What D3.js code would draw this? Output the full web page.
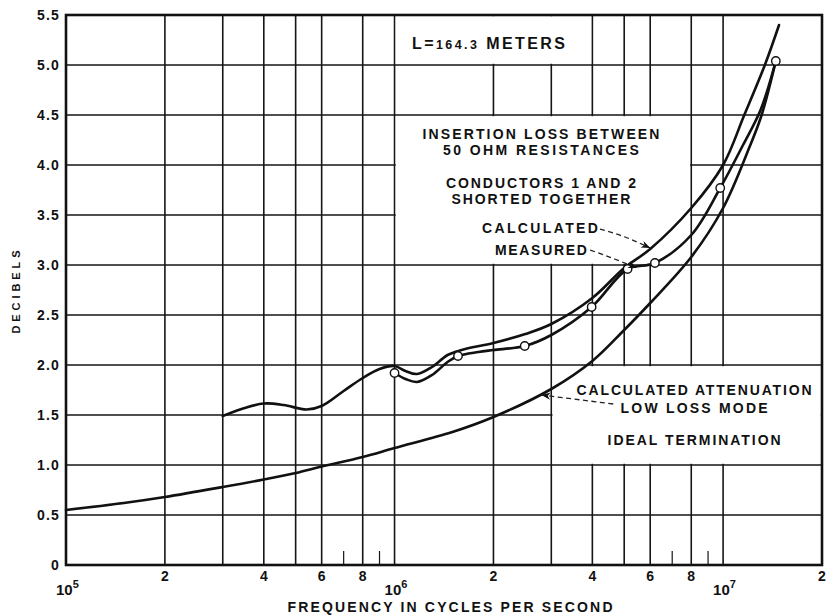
<!DOCTYPE html>
<html>
<head>
<meta charset="utf-8">
<script src="https://cdn.jsdelivr.net/npm/d3@7"></script>
<style>
  html, body { margin: 0; padding: 0; background: #fff; }
  svg { display: block; }
  text { font-family: "Liberation Sans", "Open Sans", sans-serif; font-weight: 700; fill: #111; }
</style>
</head>
<body>
<svg id="chart" width="828" height="616"></svg>
<script>
// Frequency grid: log decades with lines at 1..6 and 8, short ticks at 7 and 9
const decadeStarts = [1e5, 1e6];
const gridMultipliers = [1, 2, 3, 4, 5, 6, 8];
const shortTickMultipliers = [7, 9];
const xMinorLabels = [2, 4, 6, 8];
const xPowerLabels = [[1e5, "5"], [1e6, "6"], [1e7, "7"]];
const yTicks = [0, 0.5, 1.0, 1.5, 2.0, 2.5, 3.0, 3.5, 4.0, 4.5, 5.0, 5.5];
const yTickLabels = ["0", "0.5", "1.0", "1.5", "2.0", "2.5", "3.0", "3.5", "4.0", "4.5", "5.0", "5.5"];

// Calculated attenuation, low loss mode, ideal termination [Hz, dB]
const attenuation = [
  [1e5, 0.55], [1.5e5, 0.62], [2e5, 0.68], [3e5, 0.78], [4e5, 0.855], [5e5, 0.92],
  [6e5, 0.985], [8e5, 1.08], [1e6, 1.17], [1.5e6, 1.33], [2e6, 1.48], [3e6, 1.76],
  [4e6, 2.04], [5e6, 2.35], [6e6, 2.62], [8e6, 3.08], [1e7, 3.57], [1.2e7, 4.17],
  [1.31e7, 4.5], [1.447e7, 5.04]
];

// Calculated insertion loss between 50 ohm resistances [Hz, dB]
const calculated = [
  [3e5, 1.49], [3.5e5, 1.57], [4e5, 1.615], [4.6e5, 1.6], [5.4e5, 1.555], [6e5, 1.59],
  [7e5, 1.74], [8e5, 1.87], [9e5, 1.96], [1e6, 1.99], [1.08e6, 1.94], [1.17e6, 1.91],
  [1.3e6, 1.98], [1.45e6, 2.1], [1.6e6, 2.15], [2e6, 2.22], [2.5e6, 2.31], [3e6, 2.41],
  [4e6, 2.67], [5e6, 2.97], [6e6, 3.16], [8e6, 3.57], [1e7, 4.0], [1.16e7, 4.5],
  [1.34e7, 5.0], [1.48e7, 5.4]
];

// Measured insertion loss: faired curve and the measured points [Hz, dB]
const measuredCurve = [
  [1e6, 1.92], [1.08e6, 1.86], [1.17e6, 1.83], [1.3e6, 1.9], [1.45e6, 2.03],
  [1.56e6, 2.09], [1.8e6, 2.13], [2e6, 2.15], [2.49e6, 2.19], [3e6, 2.3],
  [3.98e6, 2.58], [5.12e6, 2.96], [6.2e6, 3.02], [8e6, 3.3], [9.8e6, 3.77],
  [1.15e7, 4.2], [1.3e7, 4.55], [1.447e7, 5.04]
];
const measuredPoints = [
  [1e6, 1.92], [1.56e6, 2.09], [2.49e6, 2.19], [3.98e6, 2.58], [5.12e6, 2.96],
  [6.2e6, 3.02], [9.8e6, 3.77], [1.447e7, 5.04]
];

// Regions kept clear of grid lines behind the notes [f0, f1, dB0, dB1]
const noteBoxes = [
  [1e6, 4e6, 5.0, 5.5],
  [1e6, 8e6, 3.0, 4.5],
  [3e6, 2e7, 1.0, 2.0]
];

// Notes: text, frequency, dB (baseline), anchor, length
const notes = [
  ["INSERTION LOSS BETWEEN", 2.79e6, 4.26, "middle", 237],
  ["50 OHM RESISTANCES", 2.79e6, 4.10, "middle", 196],
  ["CONDUCTORS 1 AND 2", 2.79e6, 3.77, "middle", 190],
  ["SHORTED TOGETHER", 2.79e6, 3.61, "middle", 179],
  ["CALCULATED", 4.16e6, 3.32, "end", 116],
  ["MEASURED", 3.85e6, 3.10, "end", 92],
  ["CALCULATED ATTENUATION", 8.16e6, 1.70, "middle", 235],
  ["LOW LOSS MODE", 8.16e6, 1.52, "middle", 147],
  ["IDEAL TERMINATION", 8.16e6, 1.20, "middle", 173]
];

// Dashed leader lines [Hz, dB], ending in an arrowhead on a curve
const leaders = [
  [[4.22e6, 3.36], [5.03e6, 3.28], [6.0e6, 3.17]],
  [[3.94e6, 3.15], [4.67e6, 3.06], [5.47e6, 2.97]],
  [[4.63e6, 1.61], [2.8e6, 1.70]]
];

const svg = d3.select("#chart");
const x = d3.scaleLog().domain([1e5, 2e7]).range([66, 822]);
const y = d3.scaleLinear().domain([0, 5.5]).range([565, 15]);
const [x0, x1] = x.range();
const [yb, yt] = y.range();

// Arrowhead
svg.append("defs").append("marker")
  .attr("id", "arrow").attr("viewBox", "0 0 10 10")
  .attr("refX", 10).attr("refY", 5)
  .attr("markerWidth", 9).attr("markerHeight", 9)
  .attr("markerUnits", "userSpaceOnUse")
  .attr("orient", "auto")
  .append("path").attr("d", "M0,1 L10,5 L0,9 L3,5 Z").attr("fill", "#111");

// Grid
const gridFreqs = [];
decadeStarts.forEach(d => gridMultipliers.forEach(m => { if (d * m > 1e5) gridFreqs.push(d * m); }));
gridFreqs.push(1e7);

const grid = svg.append("g").attr("stroke", "#151515").attr("stroke-width", 1.6);
grid.selectAll("line.v").data(gridFreqs).join("line")
  .attr("x1", d => x(d)).attr("x2", d => x(d)).attr("y1", yb).attr("y2", yt);
grid.selectAll("line.h").data(yTicks.filter(v => v > 0 && v < 5.5)).join("line")
  .attr("class", "h")
  .attr("x1", x0).attr("x2", x1).attr("y1", d => y(d)).attr("y2", d => y(d));

const shortTicks = [];
decadeStarts.forEach(d => shortTickMultipliers.forEach(m => shortTicks.push(d * m)));
grid.selectAll("line.s").data(shortTicks).join("line")
  .attr("class", "s").attr("stroke-width", 1.2)
  .attr("x1", d => x(d)).attr("x2", d => x(d)).attr("y1", yb).attr("y2", yb - 14);

// Clear areas for notes
svg.append("g").selectAll("rect").data(noteBoxes).join("rect")
  .attr("fill", "#fff")
  .attr("x", d => x(d[0]) + 1.2)
  .attr("y", d => y(d[3]) + 1.2)
  .attr("width", d => x(d[1]) - x(d[0]) - 2.4)
  .attr("height", d => y(d[2]) - y(d[3]) - 2.4);

// Frame
svg.append("rect")
  .attr("x", x0).attr("y", yt).attr("width", x1 - x0).attr("height", yb - yt)
  .attr("fill", "none").attr("stroke", "#111").attr("stroke-width", 2.6);

// Curves
const line = d3.line().x(d => x(d[0])).y(d => y(d[1])).curve(d3.curveCatmullRom.alpha(0.5));
const curves = svg.append("g").attr("fill", "none").attr("stroke", "#111")
  .attr("stroke-width", 2.6).attr("stroke-linecap", "round").attr("stroke-linejoin", "round");
[attenuation, calculated, measuredCurve].forEach(s => curves.append("path").attr("d", line(s)));

svg.append("g").selectAll("circle").data(measuredPoints).join("circle")
  .attr("cx", d => x(d[0])).attr("cy", d => y(d[1])).attr("r", 4.2)
  .attr("fill", "#fff").attr("stroke", "#111").attr("stroke-width", 1.4);

// Leaders
const leaderLine = d3.line().x(d => x(d[0])).y(d => y(d[1])).curve(d3.curveNatural);
svg.append("g").selectAll("path").data(leaders).join("path")
  .attr("d", d => leaderLine(d))
  .attr("fill", "none").attr("stroke", "#222").attr("stroke-width", 1.3)
  .attr("stroke-dasharray", "5,3.5").attr("marker-end", "url(#arrow)");

// Notes
svg.append("g").selectAll("text").data(notes).join("text")
  .attr("x", d => x(d[1])).attr("y", d => y(d[2]))
  .attr("text-anchor", d => d[3])
  .attr("font-size", 14)
  .attr("textLength", d => d[4]).attr("lengthAdjust", "spacing")
  .text(d => d[0]);

const lengthNote = svg.append("text")
  .attr("x", x(1.13e6)).attr("y", y(5.16))
  .attr("font-size", 16).attr("textLength", 153).attr("lengthAdjust", "spacing");
lengthNote.append("tspan").text("L=");
lengthNote.append("tspan").attr("font-size", 12.5).text("164.3");
lengthNote.append("tspan").text(" METERS");

// Y axis labels
svg.append("g").selectAll("text").data(yTicks).join("text")
  .attr("x", 60).attr("y", d => y(d)).attr("dy", "0.36em")
  .attr("text-anchor", "end").attr("font-size", 14).attr("letter-spacing", 1.2)
  .text((d, i) => yTickLabels[i]);

svg.append("text")
  .attr("transform", `translate(19.5,${(yb + yt) / 2 + 2}) rotate(-90)`)
  .attr("text-anchor", "middle").attr("font-size", 11)
  .attr("textLength", 83).attr("lengthAdjust", "spacing")
  .text("DECIBELS");

// X axis labels
const minorLabelData = [];
decadeStarts.forEach(d => xMinorLabels.forEach(m => minorLabelData.push([d * m, String(m)])));
minorLabelData.push([2e7, "2"]);
svg.append("g").selectAll("text").data(minorLabelData).join("text")
  .attr("x", d => x(d[0])).attr("y", yb + 16)
  .attr("text-anchor", "middle").attr("font-size", 14)
  .text(d => d[1]);

const powers = svg.append("g").selectAll("text").data(xPowerLabels).join("text")
  .attr("x", d => x(d[0]) - 10).attr("y", yb + 30)
  .attr("font-size", 15);
powers.append("tspan").text("10");
powers.append("tspan").attr("dy", -7).attr("font-size", 11).text(d => d[1]);

svg.append("text")
  .attr("x", 450).attr("y", 612)
  .attr("text-anchor", "middle").attr("font-size", 14)
  .attr("textLength", 325).attr("lengthAdjust", "spacing")
  .text("FREQUENCY IN CYCLES PER SECOND");
</script>
</body>
</html>
